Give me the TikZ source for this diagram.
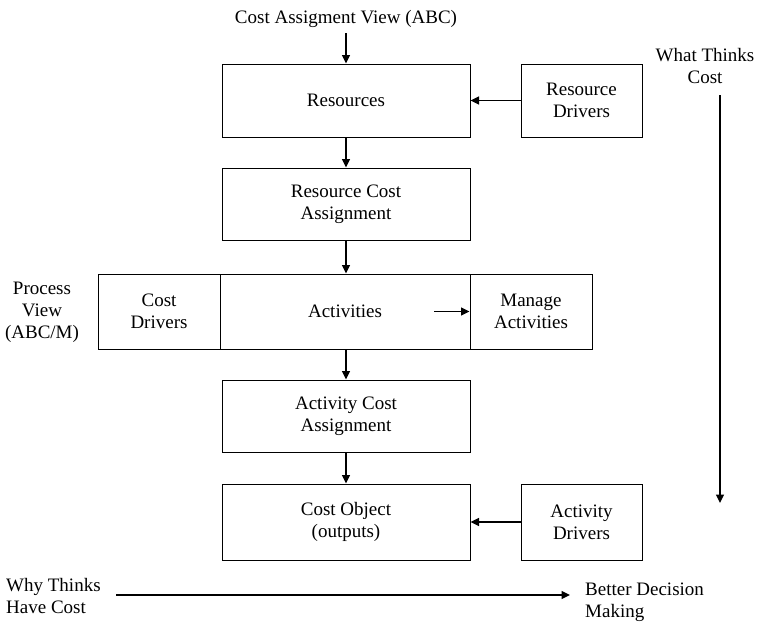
\documentclass[tikz,border=0pt]{standalone}
\usepackage{fontspec}
\setmainfont{Liberation Serif}
\usetikzlibrary{arrows.meta}
\begin{document}
\begin{tikzpicture}[x=1pt,y=-1pt,
  box/.style={draw,line width=1pt,inner sep=0pt,align=center,font=\fontsize{19}{22}\selectfont},
  lbl/.style={inner sep=0pt,align=center,font=\fontsize{19}{22}\selectfont},
  arr/.style={line width=1.3pt,-{Triangle[length=8.5pt,width=8pt]}}]
\useasboundingbox (0,0) rectangle (773,622);
\node[lbl] (top) at (346,19) {Cost Assigment View (ABC)};
\node[box,minimum width=248pt,minimum height=73pt] (res) at (346,100.5) {Resources};
\node[box,minimum width=121pt,minimum height=73pt] (resdrv) at (581.5,100.5) {Resource\\Drivers};
\node[box,minimum width=248pt,minimum height=72pt] (rca) at (346,204) {Resource Cost\\Assignment};
\node[box,minimum width=250pt,minimum height=75pt] (act) at (345,311.5) {Activities};
\node[box,minimum width=122pt,minimum height=75pt] (cdrv) at (159,311.5) {Cost\\Drivers};
\node[box,minimum width=122pt,minimum height=75pt] (mact) at (531,311.5) {Manage\\Activities};
\coordinate (actin) at (434,311.5);
\node[lbl] (pv) at (42,312) {Process\\View\\(ABC/M)};
\node[box,minimum width=248pt,minimum height=72pt] (aca) at (346,416) {Activity Cost\\Assignment};
\node[box,minimum width=248pt,minimum height=76pt] (co) at (346,522) {Cost Object\\(outputs)};
\node[box,minimum width=121pt,minimum height=76pt] (adrv) at (581.5,522) {Activity\\Drivers};
\node[lbl] (wtc) at (705,66) {What Thinks\\Cost};
\coordinate (wtcs) at (720,95);
\coordinate (wtce) at (720,503);
\node[lbl,align=left,anchor=west] (why) at (6,596) {Why Thinks\\Have Cost};
\node[lbl,align=left,anchor=west] (bdm) at (585,602) {Better Decision\\Making};
\coordinate (whys) at (116,595);
\coordinate (whye) at (570,595);
\draw[arr] (346,33) -- (res.north);
\draw[arr] (resdrv.west) -- (res.east);
\draw[arr] (res.south) -- (rca.north);
\draw[arr] (rca.south) -- (rca.south|-act.north);
\draw[arr] (actin) -- (mact.west);
\draw[arr] (aca.north|-act.south) -- (aca.north);
\draw[arr] (aca.south) -- (co.north);
\draw[arr] (adrv.west) -- (co.east);
\draw[arr] (wtcs) -- (wtce);
\draw[arr] (whys) -- (whye);
\end{tikzpicture}
\end{document}
